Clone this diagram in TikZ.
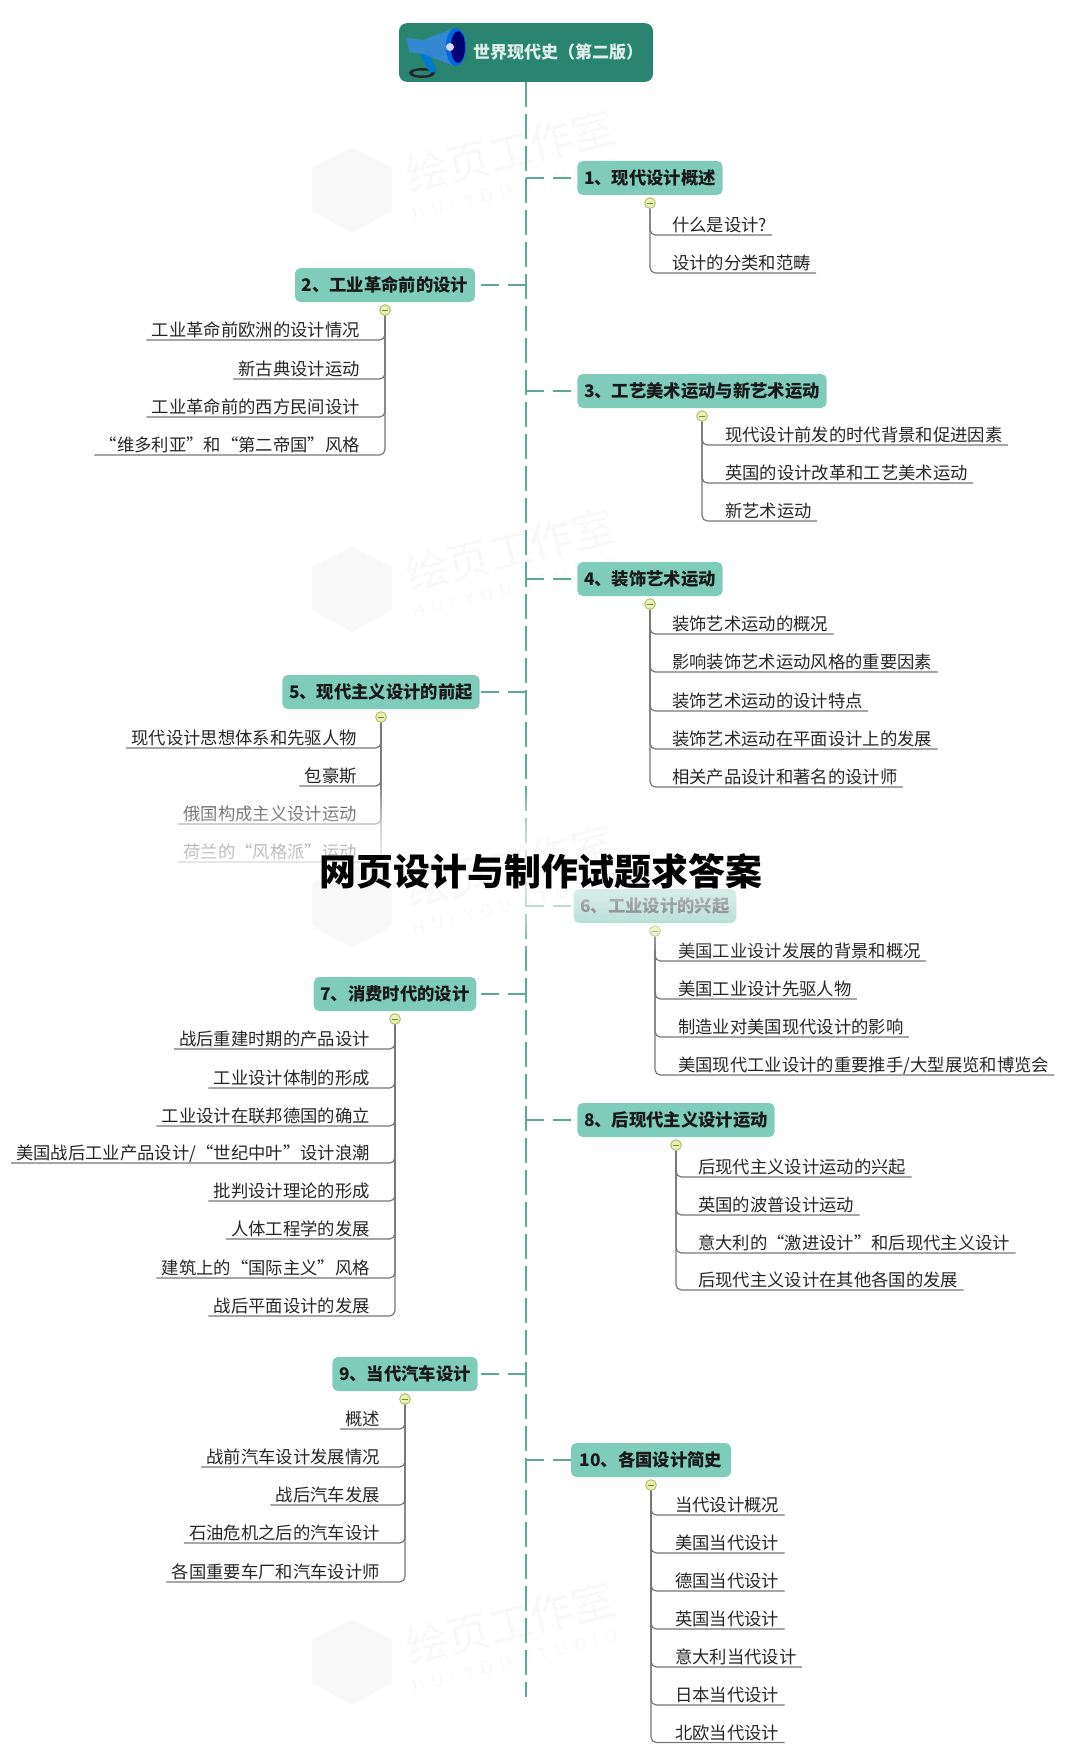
\documentclass[tikz,border=0pt]{standalone}
\usepackage{fontspec}
\setmainfont{Noto Sans CJK SC}
\usetikzlibrary{positioning}
\definecolor{rootgreen}{HTML}{2A8570}
\definecolor{topicgreen}{HTML}{7FCCBB}
\definecolor{trunkgreen}{HTML}{5EA898}
\definecolor{branchgray}{HTML}{777777}
\definecolor{leafink}{HTML}{262626}
\definecolor{foldfill}{HTML}{E9F0B4}
\definecolor{foldline}{HTML}{AEBE62}
\definecolor{wmarkgray}{HTML}{F8F8F8}
\tikzset{
  root/.style={fill=rootgreen, rounded corners=6pt, minimum width=190.5pt, minimum height=44pt, inner sep=0pt, text=white!85!rootgreen, font=\fontsize{12.75}{15}\selectfont\bfseries},
  topic/.style={fill=topicgreen, rounded corners=4pt, minimum height=25.5pt, inner xsep=5pt, inner ysep=0pt, text=black!90, font=\fontsize{13}{15}\selectfont\bfseries},
  leaf/.style={inner xsep=3.75pt, inner ysep=0pt, text depth=2.4pt, text=leafink, font=\fontsize{13}{15}\selectfont},
  fold/.style={circle, draw=foldline, fill=foldfill, line width=0.7pt, minimum size=8pt, inner sep=0pt, path picture={\draw[foldline!70!black, line width=0.6pt] ([xshift=1.5pt]path picture bounding box.west) -- ([xshift=-1.5pt]path picture bounding box.east);}},
  spine/.style={draw=trunkgreen, line width=1.5pt, dash pattern=on 19pt off 5pt},
  trunk/.style={draw=trunkgreen, line width=1.2pt, dash pattern=on 13.5pt off 6.75pt},
  branch/.style={draw=branchgray, line width=0.9pt, rounded corners=4pt},
}

\begin{document}
\begin{tikzpicture}[x=0.75pt, y=-0.75pt]
  \useasboundingbox (0,0) rectangle (1080,1744);

  % faint marks behind the map
  \foreach \wy in {191,590,906,1663} {
    \fill[wmarkgray] (352,\wy-44) -- (392,\wy-24) -- (392,\wy+20) -- (352,\wy+42) -- (312,\wy+20) -- (312,\wy-24) -- cycle;
    \node[rotate=14, text=wmarkgray, font=\fontsize{32}{34}\selectfont] at (510,\wy-40) {绘页工作室};
    \node[rotate=14, text=wmarkgray, font=\fontsize{13}{15}\selectfont\addfontfeatures{LetterSpace=40}] at (515,\wy-2) {HUI YOU STUDIO};
  }

  \node[root] (root) at (526,52.5) {\hspace{48pt}世界现代史（第二版）};
  \coordinate (spineend) at (526,1697);
  \draw[spine] (root.south) -- (spineend);

  % megaphone
  \fill[black!85] (409,73) arc[start angle=180, end angle=540, x radius=13, y radius=5];
  \fill[rootgreen] (413,73) arc[start angle=180, end angle=540, x radius=9, y radius=2.5];
  \fill[blue!40!cyan!80!black] (420,55) -- (428,52) -- (437,71) -- (430,73) -- cycle;
  \fill[cyan!60!blue!85!white] (407,38) -- (423,40) -- (452,29) -- (452,65) -- (423,54) -- (409,52) -- cycle;
  \fill[blue!55!cyan!90!black] (456,47) ellipse[x radius=10, y radius=19];
  \fill[blue!45!black] (458,47) ellipse[x radius=7, y radius=16];
  \fill[white!85!blue] (450,47) ellipse[x radius=4, y radius=4];

  % topics
  \node[topic] (t1) at (650,178) {1、现代设计概述};
  \node[topic] (t2) at (385,285) {2、工业革命前的设计};
  \node[topic] (t3) at (702,391) {3、工艺美术运动与新艺术运动};
  \node[topic] (t4) at (650,579) {4、装饰艺术运动};
  \node[topic] (t5) at (381,692) {5、现代主义设计的前起};
  \node[topic] (t6) at (655,906) {6、工业设计的兴起};
  \node[topic] (t7) at (395,994) {7、消费时代的设计};
  \node[topic] (t8) at (676,1120) {8、后现代主义设计运动};
  \node[topic] (t9) at (405,1374) {9、当代汽车设计};
  \node[topic, minimum width=120pt] (t10) at (651,1460) {10、各国设计简史};

  \foreach \n in {t1,t2,t3,t4,t5,t6,t7,t8,t9,t10} {
    \draw[trunk] (\n -| root) -- (\n);
    \node[fold, below=1.5pt of \n] (f\n) {};
  }

  % leaves on the right
  \node[leaf, anchor=south west] (a1) at (667,235) {什么是设计?};
  \node[leaf, anchor=south west] (a2) at (667,273) {设计的分类和范畴};

  \node[leaf, anchor=south west] (c1) at (720,445) {现代设计前发的时代背景和促进因素};
  \node[leaf, anchor=south west] (c2) at (720,483) {英国的设计改革和工艺美术运动};
  \node[leaf, anchor=south west] (c3) at (720,521) {新艺术运动};

  \node[leaf, anchor=south west] (d1) at (667,634) {装饰艺术运动的概况};
  \node[leaf, anchor=south west] (d2) at (667,672) {影响装饰艺术运动风格的重要因素};
  \node[leaf, anchor=south west] (d3) at (667,711) {装饰艺术运动的设计特点};
  \node[leaf, anchor=south west] (d4) at (667,749) {装饰艺术运动在平面设计上的发展};
  \node[leaf, anchor=south west] (d5) at (667,787) {相关产品设计和著名的设计师};

  \node[leaf, anchor=south west] (g1) at (673,961) {美国工业设计发展的背景和概况};
  \node[leaf, anchor=south west] (g2) at (673,999) {美国工业设计先驱人物};
  \node[leaf, anchor=south west] (g3) at (673,1037) {制造业对美国现代设计的影响};
  \node[leaf, anchor=south west] (g4) at (673,1075) {美国现代工业设计的重要推手/大型展览和博览会};

  \node[leaf, anchor=south west] (h1) at (693,1177) {后现代主义设计运动的兴起};
  \node[leaf, anchor=south west] (h2) at (693,1215) {英国的波普设计运动};
  \node[leaf, anchor=south west] (h3) at (693,1253) {意大利的“激进设计”和后现代主义设计};
  \node[leaf, anchor=south west] (h4) at (693,1290) {后现代主义设计在其他各国的发展};

  \node[leaf, anchor=south west] (k1) at (670,1515) {当代设计概况};
  \node[leaf, anchor=south west] (k2) at (670,1553) {美国当代设计};
  \node[leaf, anchor=south west] (k3) at (670,1591) {德国当代设计};
  \node[leaf, anchor=south west] (k4) at (670,1629) {英国当代设计};
  \node[leaf, anchor=south west] (k5) at (670,1667) {意大利当代设计};
  \node[leaf, anchor=south west] (k6) at (670,1705) {日本当代设计};
  \node[leaf, anchor=south west] (k7) at (670,1742.5) {北欧当代设计};

  % leaves on the left
  \node[leaf, anchor=south east] (b1) at (365,340) {工业革命前欧洲的设计情况};
  \node[leaf, anchor=south east] (b2) at (365,379) {新古典设计运动};
  \node[leaf, anchor=south east] (b3) at (365,417) {工业革命前的西方民间设计};
  \node[leaf, anchor=south east] (b4) at (365,455) {“维多利亚”和“第二帝国”风格};

  \node[leaf, anchor=south east] (e1) at (362,748) {现代设计思想体系和先驱人物};
  \node[leaf, anchor=south east] (e2) at (362,786) {包豪斯};
  \node[leaf, anchor=south east] (e3) at (362,824) {俄国构成主义设计运动};
  \node[leaf, anchor=south east] (e4) at (362,862) {荷兰的“风格派”运动};

  \node[leaf, anchor=south east] (m1) at (375,1049) {战后重建时期的产品设计};
  \node[leaf, anchor=south east] (m2) at (375,1088) {工业设计体制的形成};
  \node[leaf, anchor=south east] (m3) at (375,1126) {工业设计在联邦德国的确立};
  \node[leaf, anchor=south east] (m4) at (375,1163) {美国战后工业产品设计/“世纪中叶”设计浪潮};
  \node[leaf, anchor=south east] (m5) at (375,1201) {批判设计理论的形成};
  \node[leaf, anchor=south east] (m6) at (375,1239) {人体工程学的发展};
  \node[leaf, anchor=south east] (m7) at (375,1278) {建筑上的“国际主义”风格};
  \node[leaf, anchor=south east] (m8) at (375,1316) {战后平面设计的发展};

  \node[leaf, anchor=south east] (n1) at (385,1429) {概述};
  \node[leaf, anchor=south east] (n2) at (385,1467) {战前汽车设计发展情况};
  \node[leaf, anchor=south east] (n3) at (385,1505) {战后汽车发展};
  \node[leaf, anchor=south east] (n4) at (385,1543) {石油危机之后的汽车设计};
  \node[leaf, anchor=south east] (n5) at (385,1582) {各国重要车厂和汽车设计师};

  % branches
  \foreach \n in {a1,a2} \draw[branch] (ft1) |- (\n.south east);
  \foreach \n in {b1,b2,b3,b4} \draw[branch] (ft2) |- (\n.south west);
  \foreach \n in {c1,c2,c3} \draw[branch] (ft3) |- (\n.south east);
  \foreach \n in {d1,d2,d3,d4,d5} \draw[branch] (ft4) |- (\n.south east);
  \foreach \n in {e1,e2,e3,e4} \draw[branch] (ft5) |- (\n.south west);
  \foreach \n in {g1,g2,g3,g4} \draw[branch] (ft6) |- (\n.south east);
  \foreach \n in {m1,m2,m3,m4,m5,m6,m7,m8} \draw[branch] (ft7) |- (\n.south west);
  \foreach \n in {h1,h2,h3,h4} \draw[branch] (ft8) |- (\n.south east);
  \foreach \n in {n1,n2,n3,n4,n5} \draw[branch] (ft9) |- (\n.south west);
  \foreach \n in {k1,k2,k3,k4,k5,k6,k7} \draw[branch] (ft10) |- (\n.south east);

  % pale band under the caption
  \foreach \i in {0,...,11} \fill[white, opacity=.11] (100,790+6*\i) rectangle (800,950-6*\i);
  \node[text=black, font=\fontsize{27.7}{30}\selectfont\bfseries, inner sep=0pt] (caption) at (541,871) {网页设计与制作试题求答案};
\end{tikzpicture}
\end{document}
